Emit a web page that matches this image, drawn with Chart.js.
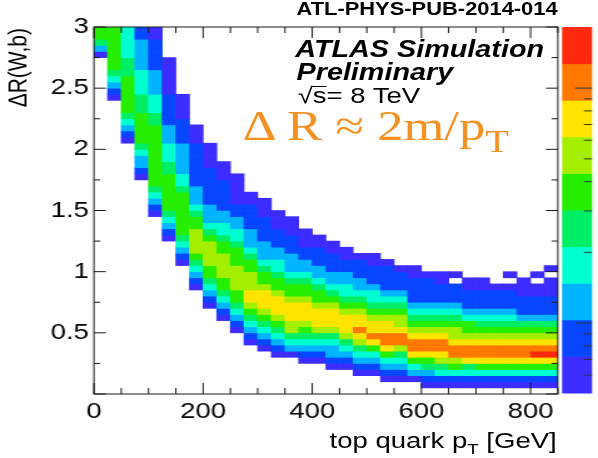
<!DOCTYPE html>
<html>
<head>
<meta charset="utf-8">
<script src="https://cdn.jsdelivr.net/npm/chart.js@4.4.1/dist/chart.umd.min.js"></script>
<style>
html, body { margin: 0; padding: 0; background: #fff; overflow: hidden; }
/* the reference is stretched sideways, so the whole stage is drawn narrow and scaled */
#stage { position: absolute; left: 0; top: 0; width: 478px; height: 458px; transform: scaleX(1.251); transform-origin: 0 0; }
#c { position: absolute; left: 0; top: 0; }
.txt { position: absolute; white-space: nowrap; line-height: 1; color: #000;
       font-family: 'Liberation Sans', Arial, Helvetica, sans-serif; }
#pub { left: 237px; top: 1px; font-size: 17.5px; font-weight: bold; }
#atlas { left: 236px; top: 38px; font-size: 23px; font-weight: bold; font-style: italic; }
#prelim { left: 237px; top: 61px; font-size: 23px; font-weight: bold; font-style: italic; }
#sqrts { left: 238px; top: 84.5px; font-size: 22px; }
#sqrts .ov { position: relative; }
#sqrts .ov::before { content: ''; position: absolute; left: -1px; right: 0; top: 3px; border-top: 1.4px solid #000; }
#formula { left: 194px; top: 105px; font-size: 42px; color: #f39223;
           font-family: 'Liberation Serif', 'Times New Roman', serif; }
#formula .sub { font-size: 31px; position: relative; top: 12px; }
#xtitle { right: 33px; top: 430px; font-size: 22px; }
#xtitle .sub { font-size: 15px; position: relative; top: 6px; }
#ytitle { left: 3px; top: 148px; width: 120px; text-align: right; font-size: 21px;
          transform: rotate(-90deg); transform-origin: 0 0; }
</style>
</head>
<body>
<div id="stage">
  <canvas id="c" width="478" height="458"></canvas>
  <div class="txt" id="pub">ATL-PHYS-PUB-2014-014</div>
  <div class="txt" id="atlas">ATLAS Simulation</div>
  <div class="txt" id="prelim">Preliminary</div>
  <div class="txt" id="sqrts">√<span class="ov">s</span>= 8 TeV</div>
  <div class="txt" id="formula">Δ&#8201;R ≈ 2m/p<span class="sub">T</span></div>
  <div class="txt" id="xtitle">top quark p<span class="sub">T</span> [GeV]</div>
  <div class="txt" id="ytitle">ΔR(W,b)</div>
</div>
<script>
// Histogram binning
const binWidthX = 25;    // GeV per column
const binHeightY = 0.05; // Delta R per row

// First filled row of every column (row i covers [0.05 i, 0.05 i + 0.05])
const colStart = [55, 48, 41, 35, 29, 25, 21, 17, 14, 12,
                  10, 8, 7, 6, 6, 5, 5, 4, 4, 3,
                  3, 2, 2, 2, 1, 1, 1, 1, 1, 1,
                  1, 1, 1, 1];

// Colour level of each cell going up from colStart ('a' = 10, '.' = empty)
const colLevels = [
  "13566",
  "123456666666",
  "1234566666655544444",
  "1233456666655544443333322",
  "1234566666666665544433332222211",
  "123456666665544433322222111111",
  "1234566666665443333322221111",
  "123456777766543332222222111",
  "123456677776543332222221111",
  "12345667777665443322222111",
  "12345667777666544332211111",
  "1234567887776654333222211",
  "1234567888766543332222111",
  "123456788876654433222111",
  "13457788876654333222111",
  "1234567888766543322111",
  "123457888766543322211",
  "123345788876543322211",
  "12345788876544332211",
  "12345789887654332221",
  "12346898876544322211",
  "12346899887654322221",
  "1234579987765432221",
  "1346899876543222211",
  "1235689987654322221",
  "1245789987654322211",
  "12467998776543222.1",
  "124589987664322211",
  "124689987654322211",
  "12468998765432221",
  "12468998765432221.1",
  "124689987653222111",
  "12468a98765322211.1",
  "12468a987653222111.1"
];

// ROOT palette, lowest level first
const levelColors = ['#3c2cff', '#0646ff', '#00b4ff', '#00ffd0', '#00ee66',
                     '#26ee00', '#a4ee00', '#ffe400', '#ff7800', '#ff2a0e'];

// Axes
const xRange = [0, 850];
const yRange = [0, 3];
const xMajorStep = 200, xMinorStep = 50;
const yMajorStep = 0.5, yMinorStep = 0.25;

// Colour bar (log z axis)
const zRange = [0.504, 18.2];
const zTicks = [0.6, 0.7, 0.8, 0.9, 1, 2, 3, 4, 5, 6, 7, 8, 9, 10];
const zMajor = [1, 10];

const FONT = "'Liberation Sans', Arial, Helvetica, sans-serif";

// Build the cells from the columns
const cells = [];
colLevels.forEach((s, c) => {
  [...s].forEach((ch, k) => {
    if (ch === '.') return;
    const lev = ch === 'a' ? 10 : parseInt(ch, 10);
    const y0 = (colStart[c] + k) * binHeightY;
    cells.push({ x: c * binWidthX + binWidthX / 2, y: [y0, y0 + binHeightY], lev: lev });
  });
});

function tickValues(lo, hi, step) {
  const out = [];
  for (let v = lo; v <= hi + 1e-9; v += step) out.push(Math.round(v * 1000) / 1000);
  return out;
}

// Frame, inward ticks and colour bar
const framePlugin = {
  id: 'frame',
  afterDatasetsDraw(chart) {
    const ctx = chart.ctx;
    const a = chart.chartArea;
    const x = chart.scales.x, y = chart.scales.y;
    ctx.save();
    ctx.strokeStyle = '#1a1a1a';
    ctx.lineWidth = 1;

    const line = (x1, y1, x2, y2) => { ctx.beginPath(); ctx.moveTo(x1, y1); ctx.lineTo(x2, y2); ctx.stroke(); };

    tickValues(xRange[0], xRange[1], xMinorStep).forEach(v => {
      const px = x.getPixelForValue(v);
      const len = (v % xMajorStep === 0) ? 11 : 6;
      line(px, a.bottom, px, a.bottom - len);
      line(px, a.top, px, a.top + len);
    });
    tickValues(yRange[0], yRange[1], yMinorStep).forEach(v => {
      const py = y.getPixelForValue(v);
      const len = (Math.abs(v / yMajorStep - Math.round(v / yMajorStep)) < 1e-6) ? 9.5 : 5;
      line(a.left, py, a.left + len, py);
      line(a.right, py, a.right - len, py);
    });
    ctx.strokeRect(a.left, a.top, a.right - a.left, a.bottom - a.top);

    // colour bar
    const cbLeft = a.right + 3.4, cbRight = a.right + 27.4;
    const cbTop = a.top, cbBottom = a.bottom - 1;
    const n = levelColors.length;
    const h = (cbBottom - cbTop) / n;
    levelColors.forEach((col, i) => {
      ctx.fillStyle = col;
      ctx.fillRect(cbLeft, cbBottom - (i + 1) * h, cbRight - cbLeft, h + 0.5);
    });
    const lmin = Math.log10(zRange[0]), lmax = Math.log10(zRange[1]);
    ctx.strokeStyle = '#333';
    zTicks.forEach(v => {
      const py = cbBottom - (Math.log10(v) - lmin) / (lmax - lmin) * (cbBottom - cbTop);
      const len = zMajor.includes(v) ? 13.5 : 6.5;
      line(cbRight, py, cbRight - len, py);
    });
    ctx.restore();
  }
};

new Chart(document.getElementById('c'), {
  type: 'bar',
  data: {
    datasets: [{
      data: cells,
      backgroundColor: cells.map(c => levelColors[c.lev - 1]),
      borderWidth: 0,
      barPercentage: 1,
      categoryPercentage: 1
    }]
  },
  options: {
    responsive: false,
    animation: false,
    events: [],
    layout: { padding: { top: 27, right: 32.1, left: 0, bottom: 0 } },
    plugins: { legend: { display: false }, tooltip: { enabled: false } },
    scales: {
      x: {
        type: 'linear', min: xRange[0], max: xRange[1], offset: false,
        grid: { display: false, drawTicks: false }, border: { display: false },
        ticks: { stepSize: xMajorStep, includeBounds: false, autoSkip: false, maxRotation: 0,
                 padding: 5, color: '#000', font: { family: FONT, size: 22 } },
        afterFit: s => { s.height = 64; }
      },
      y: {
        min: yRange[0], max: yRange[1],
        grid: { display: false, drawTicks: false }, border: { display: false },
        ticks: { stepSize: yMajorStep, padding: 4, color: '#000', font: { family: FONT, size: 22 },
                 callback: v => (v === 0 ? '' : v) },
        afterFit: s => { s.width = 75.1; }
      }
    }
  },
  plugins: [framePlugin]
});
</script>
</body>
</html>
